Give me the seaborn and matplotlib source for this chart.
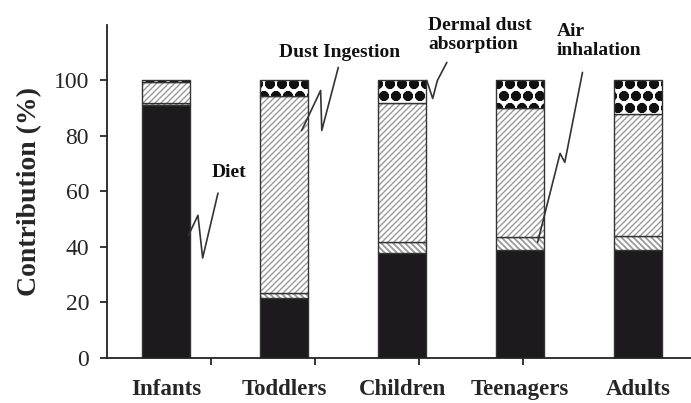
import numpy as np
import matplotlib.pyplot as plt
import seaborn as sns

groups = ["Infants", "Toddlers", "Children", "Teenagers", "Adults"]
diet = [91.0, 21.5, 37.8, 38.8, 38.8]
air_inhalation = [1.0, 2.0, 3.9, 4.7, 5.0]
dust_ingestion = [7.5, 71.0, 50.0, 46.5, 44.0]
dermal_absorption = [0.5, 5.5, 8.3, 10.0, 12.2]
y_ticks = [0, 20, 40, 60, 80, 100]

# rendered at 72 dpi so the hatch spacing comes out closer to the original
DPI = 72
S = 100 / DPI

sns.set_style("ticks")
plt.rcParams["font.family"] = ["Liberation Serif", "DejaVu Serif"]

fig = plt.figure(figsize=(691 / DPI, 403 / DPI), dpi=DPI)
ax = fig.add_axes([0.155, 0.112, 0.845, 0.826])

# stack order from bottom: diet, air, dust, dermal
layers = [
    (diet, "#1c1a1c", None, "#1c1a1c", 1.0),
    (air_inhalation, "white", "\\\\\\\\", "#999999", 1.3),
    (dust_ingestion, "white", "////", "#9a9a9a", 1.0),
    (dermal_absorption, "white", "o", "#111111", 3.6),
]
bottom = np.zeros(len(groups))
for vals, face, hatch, hcol, hlw in layers:
    with plt.rc_context({"hatch.linewidth": hlw * S}):
        sns.barplot(x=groups, y=vals, bottom=bottom, color=face, saturation=1,
                    hatch=hatch, edgecolor=hcol, linewidth=0, width=0.4, ax=ax)
    sns.barplot(x=groups, y=vals, bottom=bottom, color="#333333", fill=False,
                linewidth=1.0 * S, width=0.4, ax=ax)
    bottom = bottom + np.array(vals)

ax.set_xlim(-0.5, 4.45)
ax.set_ylim(0, 120)
ax.set_yticks(y_ticks)
ax.set_yticklabels([str(t) for t in y_ticks], fontsize=17 * S)
ax.tick_params(axis="y", direction="out", length=5 * S, width=1.3 * S, pad=8 * S)
ax.tick_params(axis="x", which="major", length=0, pad=15 * S)
ax.set_xticks(range(len(groups)))
ax.set_xticklabels(groups, fontsize=16.5 * S, fontweight="bold")
ax.set_xticks([0.38, 1.26, 2.14, 3.03], minor=True)
ax.tick_params(axis="x", which="minor", direction="out", length=5 * S, width=1.3 * S)
ax.set_xlabel("")
ax.set_ylabel("Contribution (%)", fontsize=20 * S, fontweight="bold", labelpad=8 * S)
sns.despine(ax=ax)
for s in ["left", "bottom"]:
    ax.spines[s].set_linewidth(1.3 * S)
    ax.spines[s].set_color("#222222")

# callout squiggles
sq = dict(color="#333333", lw=1.2 * S, clip_on=False)
ax.plot([0.19, 0.27, 0.31, 0.44], [44.2, 51.4, 36.0, 59.4], **sq)
ax.plot([1.15, 1.31, 1.32, 1.46], [82.0, 96.4, 82.0, 104.7], **sq)
ax.plot([2.21, 2.26, 2.30, 2.38], [100.0, 93.5, 100.0, 106.5], **sq)
ax.plot([3.15, 3.34, 3.38, 3.53], [41.7, 73.7, 70.5, 102.9], **sq)

lab = dict(fontsize=14 * S, fontweight="bold", color="#111111")
ax.text(0.53, 67, "Diet", ha="center", va="center", **lab)
ax.text(1.47, 110, "Dust Ingestion", ha="center", va="center", **lab)
ax.text(2.22, 116.5, "Dermal dust\nabsorption", ha="left", va="center",
        linespacing=1.15, **lab)
ax.text(3.31, 114.2, "Air\ninhalation", ha="left", va="center",
        linespacing=1.15, **lab)

fig.savefig("out.png", dpi=DPI)
